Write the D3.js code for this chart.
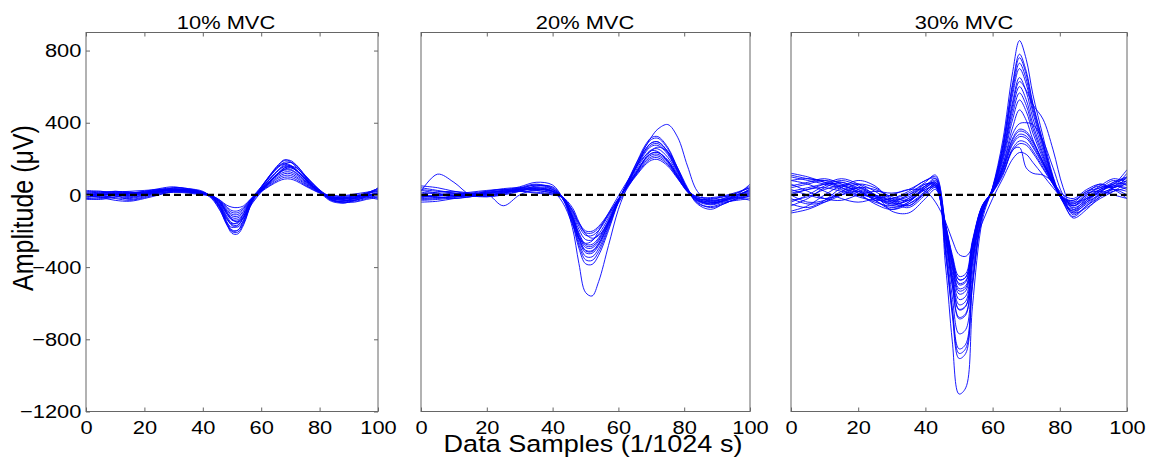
<!DOCTYPE html>
<html lang="en">
<head>
    <meta charset="UTF-8">
    <title>MUAP templates at 10/20/30% MVC</title>
    <script src="https://d3js.org/d3.v7.min.js"></script>
    <style>
        body {
            margin: 0;
            background: white;
        }
        svg {
            display: block;
            font-family: "Liberation Sans", Arial, sans-serif;
        }
        .trace {
            fill: none;
            stroke: #0000ff;
            stroke-width: 0.9;
        }
        .zero-line {
            stroke: #000;
            stroke-width: 2.3;
            stroke-dasharray: 7,4;
        }
        .frame {
            fill: none;
            stroke: #666;
            stroke-width: 1;
        }
        .axis path { display: none; }
        .axis line { stroke: #666; }
        .axis text {
            font-size: 19px;
            fill: #000;
        }
    </style>
</head>
<body>
<svg id="chart"></svg>
<script>
    // sample positions (data samples, 1/1024 s)
    const xSamples = [0,5,10,15,20,25,30,35,40,43,46,48,50,52,54,57,60,63,66,68,70,72,75,78,81,84,88,92,96,100];

    const panelTitles = ["10% MVC", "20% MVC", "30% MVC"];
    const xTicks = [0, 20, 40, 60, 80, 100];
    const yTicks = [-1200, -800, -400, 0, 400, 800];

    // amplitude (µV) of each trace at xSamples
    const mvc10 = [
        [-10,-5,5,-5,10,25,35,30,15, -11,-77,-154,-213,-216,-165,-33,39,107,166,191,191,166,107,55,10, -25,-40,-25,-5,15],
        [10,15,10,5,15,20,25,20,10, -10,-70,-140,-194,-196,-150,-30,30,90,140,170,180,165,110,60,15, -15,-20,-10,5,30],
        [-20,-15,-5,-25,-10,10,20,25,10, -20,-90,-150,-180,-170,-120,-15,45,105,155,170,160,135,85,40,5, -20,-30,-35,-20,-10],
        [5,0,15,20,25,30,30,20,5, -9,-60,-119,-165,-167,-128,-26,32,88,136,157,157,136,88,45,8, -10,-15,-5,0,5],
        [-5,10,20,10,5,15,40,35,15, -8,-56,-112,-155,-157,-120,-24,37,102,157,181,181,157,102,52,9, -30,-35,-15,10,35],
        [0,-10,-20,-30,-15,5,15,15,5, -5,-40,-90,-135,-150,-125,-45,15,70,118,142,150,135,92,50,12, -15,-10,0,-10,-25],
        [15,20,5,-5,5,20,25,25,10, -7,-49,-98,-136,-137,-105,-21,28,77,119,137,137,119,77,39,7, -5,-25,-30,-10,0],
        [-25,-20,0,10,20,35,45,30,10, -7,-46,-91,-126,-127,-98,-20,24,66,102,118,118,102,66,34,6, -20,-15,-5,10,20],
        [0,5,-5,-15,0,20,30,25,10, -6,-42,-84,-116,-118,-90,-18,33,91,140,162,162,140,91,46,8, -25,-45,-30,-15,-5],
        [10,5,10,15,10,15,20,15,5, -6,-39,-77,-107,-108,-83,-17,20,55,85,98,98,85,55,28,5, -10,-5,5,15,25],
        [-15,-5,5,0,10,25,30,20,5, -5,-35,-70,-97,-98,-75,-15,26,72,111,127,127,111,72,36,7, -20,-25,-15,0,-20],
        [20,10,0,-10,0,10,15,10,0, -5,-32,-63,-87,-88,-68,-14,18,50,77,88,88,77,50,25,5, 0,-10,-20,-5,10],
        [-5,0,5,10,15,25,25,15,5, -4,-30,-55,-68,-70,-60,-12,22,61,94,108,108,94,61,31,6, -15,-20,-10,0,40],
        [5,-5,-15,-20,-5,15,30,30,15, -10,-74,-147,-204,-206,-158,-32,29,80,123,142,142,123,80,41,7, -25,-35,-20,5,20],
        [-20,-25,-10,5,15,30,40,35,20, -15,-85,-160,-200,-195,-140,-30,40,110,170,195,185,155,100,45,0, -35,-45,-30,-10,5],
        [25,20,15,10,20,30,35,25,10, -8,-50,-100,-140,-145,-115,-30,25,75,120,150,160,150,105,55,15, -10,-20,-15,10,35],
        [-5,-15,-30,-35,-20,0,20,30,15, -10,-65,-125,-170,-178,-140,-40,20,75,125,150,152,135,90,45,5, -30,-40,-40,-25,-15],
        [0,10,20,15,10,20,25,20,5, -12,-70,-130,-160,-150,-105,-20,45,110,160,175,165,140,90,42,5, -20,-30,-20,-5,10]
    ];

    const mvc20 = [
        [-10,0,10,5,0,15,35,55,30, -20,-180,-380,-540,-560,-480,-280,-80,60,180,260,320,365,390,320,160, 20,-40,-30,0,20],
        [20,115,70,0,-10,5,20,40,20, -20,-157,-295,-381,-385,-334,-197,-39,83,198,271,317,323,264,149,33, -30,-50,-30,-10,10],
        [-20,-15,-5,10,20,30,35,25,10, -19,-148,-278,-359,-363,-315,-185,-37,75,180,246,288,294,240,135,30, -40,-70,-50,-20,-10],
        [50,40,20,5,10,20,40,60,35, -18,-140,-263,-340,-343,-298,-175,-35,70,168,230,269,274,224,126,28, -20,-40,-20,10,40],
        [0,-10,-20,-10,5,-60,0,30,20, -17,-132,-248,-320,-323,-281,-165,-33,80,192,262,307,314,256,144,32, -50,-80,-50,-20,0],
        [-30,-25,-15,0,10,20,30,40,25, -16,-126,-236,-306,-309,-268,-158,-32,65,156,213,250,255,208,117,26, -10,-20,-10,0,30],
        [30,20,10,0,-10,0,20,50,45, -15,-120,-225,-291,-294,-255,-150,-30,60,144,197,230,235,192,108,24, -15,-30,-25,-15,-30],
        [-10,-5,0,-5,10,25,45,70,55, -15,-116,-218,-281,-284,-247,-145,-29,75,180,246,288,294,240,135,30, -30,-45,-30,0,60],
        [15,5,-5,-10,5,15,20,15,5, -14,-112,-210,-272,-274,-238,-140,-28,58,138,189,221,225,184,104,23, -25,-35,-25,-5,15],
        [-40,-35,-20,-10,0,10,25,35,20, -40,-160,-240,-268,-255,-200,-100,-5,85,170,215,245,240,185,95,15, -35,-55,-40,-30,-20],
        [5,15,20,10,0,10,30,45,30, -13,-102,-191,-247,-250,-217,-128,-26,55,132,180,211,216,176,99,22, -20,-25,-10,10,50],
        [-25,-20,-10,0,20,35,40,35,15, -10,-70,-150,-215,-240,-225,-150,-45,45,135,200,245,265,240,150,40, -45,-65,-45,-25,-5],
        [25,10,-5,0,15,25,30,25,10, -12,-92,-173,-223,-225,-196,-115,-23,53,126,172,202,206,168,95,21, -10,-15,-5,15,40],
        [-5,-15,-10,5,15,20,25,30,20, -11,-86,-161,-209,-211,-183,-108,-22,50,120,164,192,196,160,90,20, -20,-30,-20,0,25],
        [40,25,10,-5,-5,10,35,55,40, -10,-82,-154,-199,-201,-174,-103,-21,60,144,197,230,235,192,108,24, -30,-40,-35,-15,5],
        [-15,-5,5,15,25,30,20,10,0, -16,-128,-240,-310,-314,-272,-160,-32,73,174,238,278,284,232,131,29, -25,-50,-35,-10,35]
    ];

    const mvc30 = [
        [40,60,80,40,0,-40,-60,-20,60,50, -394,-810,-1103,-1069,-619,-135,43,299,684,855,752,556,325,103,-43, -120,-60,0,40,60],
        [-60,-20,40,70,30,-30,-70,-40,40,70, -323,-665,-906,-878,-508,-111,39,273,624,780,686,507,296,94,-39, -100,-40,20,50,80],
        [100,80,60,30,-10,-30,-20,20,80,90, -314,-645,-878,-851,-493,-108,37,256,584,730,642,475,277,88,-37, -80,-20,30,60,100],
        [0,-40,-30,20,60,40,-20,-60,20,60, -275,-565,-769,-746,-432,-94,35,245,560,700,616,455,266,84,-35, -128,-80,-10,30,20],
        [80,90,70,50,20,-20,-50,-30,30,40, -242,-498,-678,-657,-381,-83,33,228,520,650,572,423,247,78,-33, -60,0,40,60,140],
        [-90,-60,0,50,60,20,-40,-70,0,40, -226,-465,-633,-614,-355,-78,31,220,502,628,580,500,420,250,40, -80,-40,0,20,40],
        [20,40,60,60,30,0,-30,-10,50,80, -207,-426,-579,-561,-325,-71,30,210,480,600,528,390,228,72,-30, -50,10,60,40,80],
        [-40,0,50,80,50,-10,-60,-50,10,50, -190,-391,-532,-516,-299,-65,28,198,452,565,497,367,215,68,-28, -90,-50,10,70,100],
        [120,100,70,40,10,-20,-40,0,60,60, -178,-366,-498,-483,-279,-61,26,184,421,526,463,342,200,63,-26, -40,20,50,30,-20],
        [-20,-50,-40,0,40,30,-10,-30,30,50, -168,-346,-470,-456,-264,-58,24,165,377,471,414,306,179,57,-24, -70,-30,20,60,60],
        [60,20,-20,-30,0,20,10,30,80,100, -161,-331,-451,-437,-253,-55,19,148,315,364,352,297,186,74,-19, -30,20,40,80,50],
        [-100,-80,-40,10,40,0,-90,-100,-20,30, -186,-382,-519,-504,-292,-64,17,137,292,336,326,274,172,69,-17, -100,-70,-20,20,70],
        [50,70,90,60,10,-50,-80,-40,40,60, -217,-446,-608,-589,-341,-74,15,122,259,299,290,244,153,61,-15, -60,-20,20,50,30],
        [0,30,40,20,0,-10,-30,0,50,70, -168,-346,-470,-456,-264,-58,13,107,250,263,150,120,110,70,0, -20,30,60,40,100],
        [80,60,20,-20,-40,-20,0,30,20,-40, -150,-250,-330,-340,-290,-150,-20,90,200,235,225,180,110,40,-20, -40,-20,10,30,0],
        [-50,-70,-30,40,80,50,-30,-60,10,50, -245,-504,-686,-665,-385,-84,18,144,306,353,342,288,180,72,-18, -110,-60,-10,40,120],
        [30,0,-20,0,20,-10,-40,-20,40,70, -196,-403,-549,-532,-308,-67,17,132,281,323,314,264,165,66,-17, -50,0,50,90,70],
        [110,90,80,70,40,0,-20,10,70,110, -175,-360,-490,-475,-275,-60,15,116,247,284,276,232,145,58,-15, -30,10,20,0,-20],
        [-30,-10,30,50,20,-30,-80,-50,20,60, -305,-626,-853,-827,-479,-104,38,266,608,760,669,494,289,91,-38, -90,-30,30,70,90],
        [10,30,60,90,60,0,-50,-30,50,90, -228,-468,-637,-618,-358,-78,20,160,340,395,400,390,300,150,0, -60,-10,30,50,40]
    ];

    const width = 1157, height = 462;
    const plotTop = 32.5, plotBottom = 411.5;
    const sx = 1.15; // glyphs in the source are a bit wider than tall

    const panels = [
        { title: panelTitles[0], data: mvc10, left: 86, right: 378, titleX: 226, yLabels: true },
        { title: panelTitles[1], data: mvc20, left: 421, right: 750, titleX: 585, yLabels: false },
        { title: panelTitles[2], data: mvc30, left: 791, right: 1127, titleX: 964, yLabels: false }
    ];

    const svg = d3.select("#chart").attr("width", width).attr("height", height);
    const defs = svg.append("defs");

    const y = d3.scaleLinear().domain([-1200, 900]).range([plotBottom, plotTop]);

    panels.forEach((p, i) => {
        const x = d3.scaleLinear().domain([0, 100]).range([p.left, p.right]);
        const g = svg.append("g");

        defs.append("clipPath").attr("id", "clip" + i)
            .append("rect")
            .attr("x", p.left).attr("y", plotTop)
            .attr("width", p.right - p.left).attr("height", plotBottom - plotTop);

        const line = d3.line()
            .x((d, k) => x(xSamples[k]))
            .y(d => y(d))
            .curve(d3.curveCatmullRom.alpha(0.5));

        g.append("g")
            .attr("clip-path", `url(#clip${i})`)
            .selectAll("path")
            .data(p.data)
            .enter().append("path")
            .attr("class", "trace")
            .attr("d", line);

        // dashed zero reference
        g.append("line")
            .attr("class", "zero-line")
            .attr("x1", x(0)).attr("x2", x(100))
            .attr("y1", y(0)).attr("y2", y(0));

        g.append("rect")
            .attr("class", "frame")
            .attr("x", p.left).attr("y", plotTop)
            .attr("width", p.right - p.left).attr("height", plotBottom - plotTop);

        g.append("g")
            .attr("class", "axis")
            .attr("transform", `translate(0,${plotBottom})`)
            .call(d3.axisBottom(x).tickValues(xTicks).tickSize(-4).tickPadding(9.5))
            .selectAll("text").attr("transform", `scale(${sx},1)`);

        g.append("g")
            .attr("class", "axis")
            .attr("transform", `translate(0,${plotTop})`)
            .call(d3.axisTop(x).tickValues(xTicks).tickSize(-4).tickFormat(""));

        if (p.yLabels) {
            g.append("g")
                .attr("class", "axis")
                .attr("transform", `translate(${p.left},0)`)
                .call(d3.axisLeft(y).tickValues(yTicks).tickFormat(d3.format("d")).tickSize(-4).tickPadding(4))
                .selectAll("text").attr("transform", `scale(${sx},1)`);

            g.append("g")
                .attr("class", "axis")
                .attr("transform", `translate(${p.right},0)`)
                .call(d3.axisRight(y).tickValues(yTicks).tickSize(-4).tickFormat(""));
        }

        g.append("text")
            .attr("transform", `translate(${p.titleX},29) scale(${sx},1)`)
            .attr("text-anchor", "middle")
            .style("font-size", "19px")
            .text(p.title);
    });

    svg.append("text")
        .attr("transform", `translate(593,452) scale(${sx},1)`)
        .attr("text-anchor", "middle")
        .style("font-size", "23.5px")
        .text("Data Samples (1/1024 s)");

    svg.append("text")
        .attr("transform", `translate(33,208) scale(${sx},1) rotate(-90)`)
        .attr("text-anchor", "middle")
        .style("font-size", "25px")
        .text("Amplitude (\u03bcV)");
</script>
</body>
</html>
